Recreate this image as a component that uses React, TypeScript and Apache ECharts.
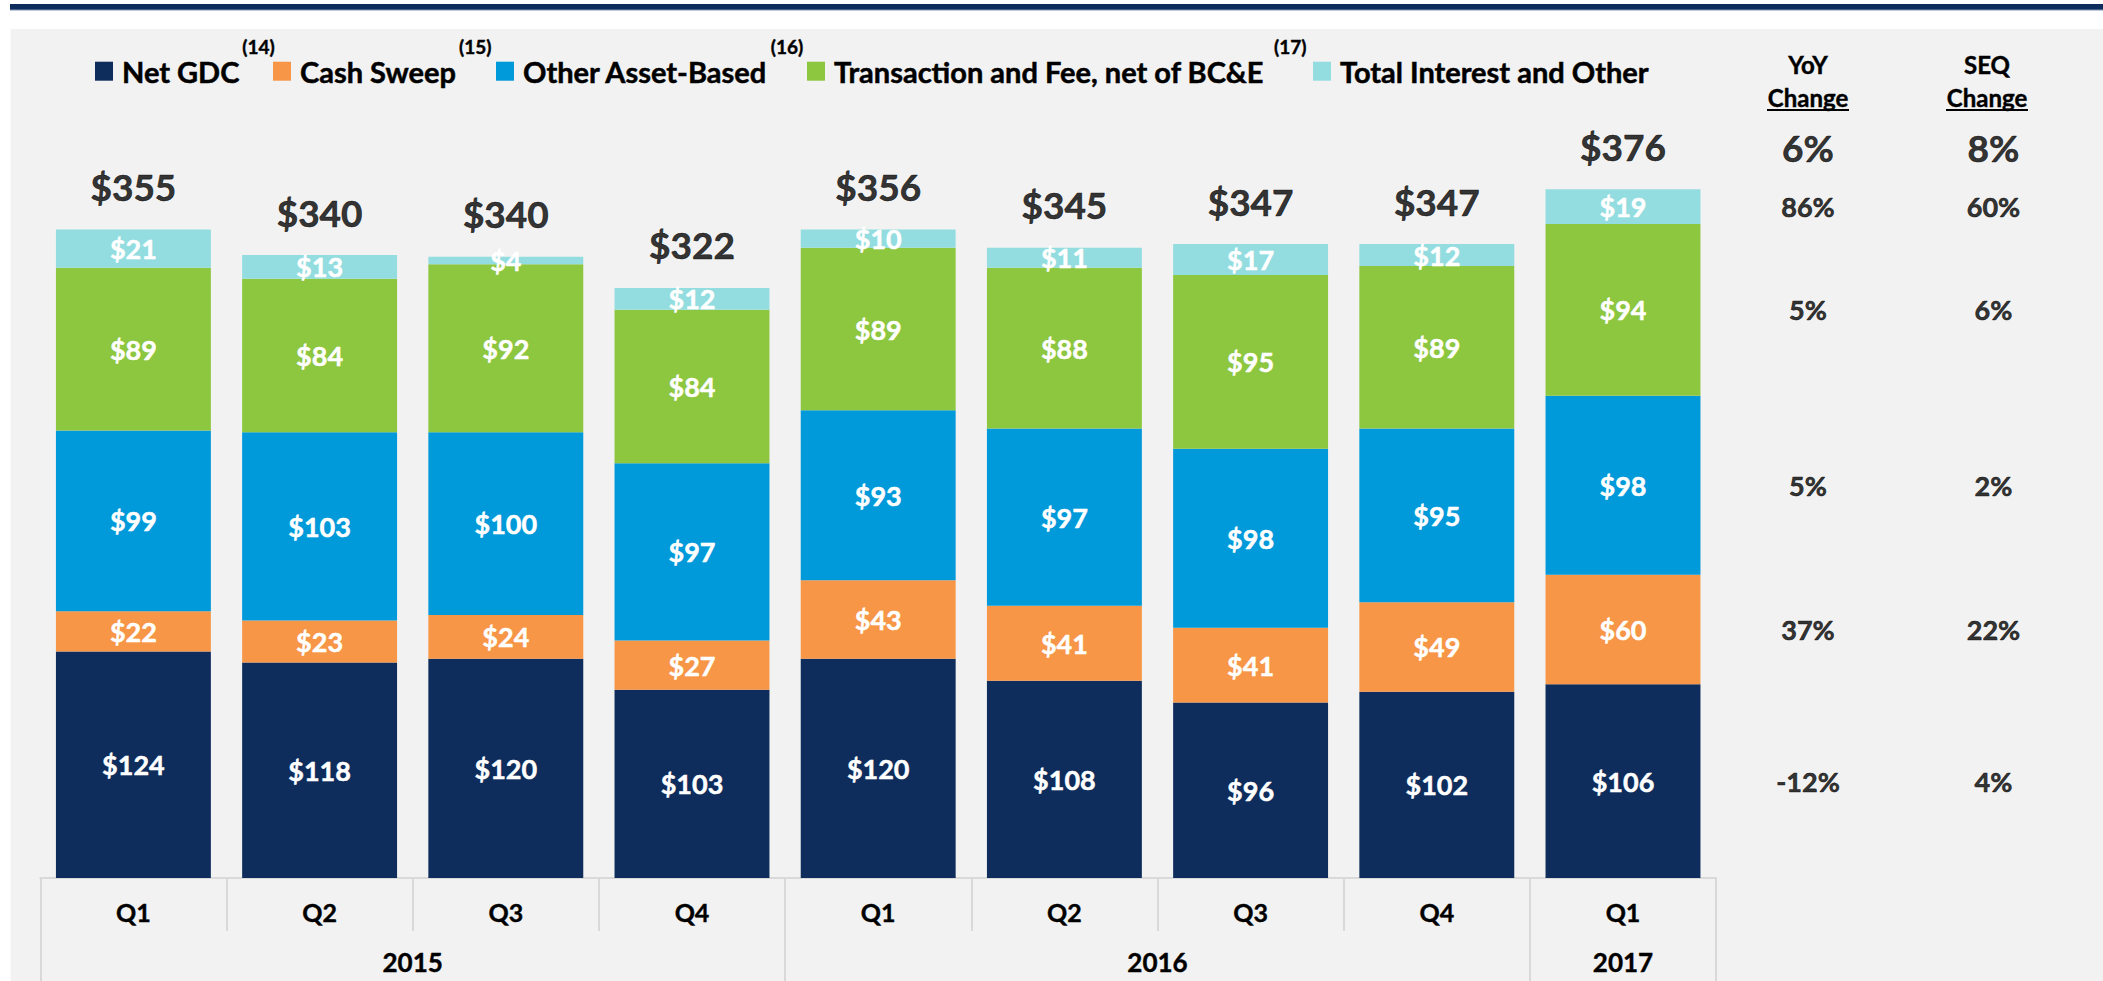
import React, { useEffect, useRef } from "react";
import * as echarts from "echarts";

// ---------- data ----------
const quarters = ["Q1", "Q2", "Q3", "Q4", "Q1", "Q2", "Q3", "Q4", "Q1"];
const years = ["2015", "2016", "2017"];
const quartersPerYear = [4, 4, 1];

const netGDC = [124, 118, 120, 103, 120, 108, 96, 102, 106];
const cashSweep = [22, 23, 24, 27, 43, 41, 41, 49, 60];
const otherAssetBased = [99, 103, 100, 97, 93, 97, 98, 95, 98];
const transactionFee = [89, 84, 92, 84, 89, 88, 95, 89, 94];
const interestOther = [21, 13, 4, 12, 10, 11, 17, 12, 19];
const totals = [355, 340, 340, 322, 356, 345, 347, 347, 376];

const seriesNames = [
  "Net GDC",
  "Cash Sweep",
  "Other Asset-Based",
  "Transaction and Fee, net of BC&E",
  "Total Interest and Other",
];
const footnotes = ["(14)", "(15)", "(16)", "(17)", ""];

// change columns, per series (same order as seriesNames), plus total
const yoyChange = ["-12%", "37%", "5%", "5%", "86%"];
const seqChange = ["4%", "22%", "2%", "6%", "60%"];
const yoyTotal = "6%";
const seqTotal = "8%";
const changeHeaders = ["YoY", "SEQ"];

// ---------- style ----------
const FONT = "Lato";
const colors = ["#0e2d5c", "#f79646", "#0099d9", "#8dc63f", "#93dde0"];
const legendLefts = [95, 273, 496, 807, 1313];

const GRID_TOP = 110.7;
const GRID_H = 767.3;
const Y_MAX = 420;

const heavyBlack = { color: "#000", textBorderColor: "#000", textBorderWidth: 0.6 };
const heavyWhite = { color: "#fff", textBorderColor: "#fff", textBorderWidth: 0.5 };

export default function App() {
  const ref = useRef<HTMLDivElement>(null);

  useEffect(() => {
    const chart = echarts.init(ref.current!, null, { renderer: "svg" });

    const seriesData = [netGDC, cashSweep, otherAssetBased, transactionFee, interestOther];
    const stackTops = quarters.map((_, i) => seriesData.reduce((s, arr) => s + arr[i], 0));

    // year boundaries / centers on a 0..n value axis
    const boundaries: number[] = [0];
    const yearCenters: number[] = [];
    quartersPerYear.forEach((n) => {
      const start = boundaries[boundaries.length - 1];
      yearCenters.push(start + n / 2);
      boundaries.push(start + n);
    });

    const last = quarters.length - 1;
    const changeData: any[] = [];
    let cum = 0;
    seriesData.forEach((arr, k) => {
      const center = cum + arr[last] / 2;
      cum += arr[last];
      changeData.push({ value: [0, center], label: { formatter: yoyChange[k] } });
      changeData.push({ value: [1, center], label: { formatter: seqChange[k] } });
    });
    const topBig = { fontSize: 37, offset: [0, -42] };
    changeData.push({ value: [0, stackTops[last]], label: { formatter: yoyTotal, ...topBig } });
    changeData.push({ value: [1, stackTops[last]], label: { formatter: seqTotal, ...topBig } });

    const barSeries = seriesData.map((arr, k) => ({
      type: "bar",
      name: seriesNames[k],
      stack: "rev",
      xAxisIndex: 0,
      yAxisIndex: 0,
      data: arr,
      barCategoryGap: "16.8%",
      itemStyle: { color: colors[k] },
      label: {
        show: true,
        position: "inside",
        ...heavyWhite,
        fontFamily: FONT,
        fontWeight: "bold",
        fontSize: 27,
        formatter: (p: any) => "$" + p.value,
      },
    }));

    const footStyle = {
      fontFamily: FONT,
      fontWeight: "bold",
      fontSize: 19,
      ...heavyBlack,
      textBorderWidth: 0.4,
      lineHeight: 19,
      verticalAlign: "top",
    };

    const legends = seriesNames.map((name, k) => ({
      data: [name],
      left: legendLefts[k],
      top: 36.5,
      padding: 0,
      itemGap: 0,
      itemWidth: 18,
      itemHeight: 19,
      icon: "rect",
      selectedMode: false,
      formatter: (nm: string) => {
        const i = seriesNames.indexOf(nm);
        const foot = footnotes[i] || " ";
        return `{n|${nm}}{${i === 3 ? "g" : "f"}|${foot}}`;
      },
      textStyle: {
        fontFamily: FONT,
        fontWeight: "bold",
        fontSize: 29,
        ...heavyBlack,
        rich: {
          n: {
            fontFamily: FONT,
            fontWeight: "bold",
            fontSize: 29,
            ...heavyBlack,
            textBorderWidth: 0.5,
            lineHeight: 69,
            verticalAlign: "middle",
            padding: [0, 0, 0, 4],
          },
          f: { ...footStyle, padding: [0, 0, 0, 3] },
          g: { ...footStyle, padding: [0, 0, 0, 10] },
        },
      },
    }));

    const option: any = {
      animation: false,
      backgroundColor: "#f2f2f2",
      textStyle: { fontFamily: FONT },
      legend: legends,
      grid: [
        { left: 40.3, top: GRID_TOP, width: 1675.8, height: GRID_H, containLabel: false },
        { left: 1715.25, top: GRID_TOP, width: 371, height: GRID_H, containLabel: false },
      ],
      xAxis: [
        {
          type: "category",
          gridIndex: 0,
          data: quarters,
          position: "bottom",
          axisLine: { show: true, lineStyle: { color: "#d9d9d9", width: 2 } },
          axisTick: {
            show: true,
            alignWithLabel: false,
            interval: 0,
            length: 53,
            lineStyle: { color: "#d9d9d9", width: 2 },
          },
          axisLabel: {
            interval: 0,
            margin: 21,
            ...heavyBlack,
            textBorderWidth: 0.4,
            fontFamily: FONT,
            fontWeight: "bold",
            fontSize: 25,
          },
          splitLine: { show: false },
        },
        {
          type: "value",
          gridIndex: 0,
          min: 0,
          max: quarters.length,
          position: "bottom",
          axisLine: { show: false },
          splitLine: { show: false },
          axisTick: {
            show: true,
            customValues: boundaries,
            length: 103,
            lineStyle: { color: "#d9d9d9", width: 2 },
          },
          axisLabel: {
            show: true,
            customValues: yearCenters,
            margin: 71,
            ...heavyBlack,
            textBorderWidth: 0.4,
            fontFamily: FONT,
            fontWeight: "bold",
            fontSize: 26,
            formatter: (v: number) => {
              const i = yearCenters.findIndex((c) => Math.abs(c - v) < 1e-6);
              return i >= 0 ? years[i] : "";
            },
          },
        },
        {
          type: "category",
          gridIndex: 1,
          data: changeHeaders,
          position: "top",
          offset: -20,
          axisLine: { show: false },
          axisTick: { show: false },
          splitLine: { show: false },
          axisLabel: {
            interval: 0,
            margin: 17,
            formatter: (v: string) => (v === "SEQ" ? `{s|${v}}\n{s|Change}` : `{h|${v}}\n{h|Change}`),
            rich: {
              h: { fontFamily: FONT, fontWeight: "bold", fontSize: 24, ...heavyBlack, textBorderWidth: 0.4, lineHeight: 32.5 },
              s: {
                fontFamily: FONT,
                fontWeight: "bold",
                fontSize: 24,
                ...heavyBlack,
                textBorderWidth: 0.4,
                lineHeight: 32.5,
                padding: [0, 13, 0, 0],
              },
            },
          },
        },
      ],
      yAxis: [
        { type: "value", gridIndex: 0, min: 0, max: Y_MAX, show: false },
        { type: "value", gridIndex: 1, min: 0, max: Y_MAX, show: false },
      ],
      graphic: [
        { type: "rect", silent: true, shape: { x: 0, y: 0, width: 2103, height: 29 }, style: { fill: "#ffffff" } },
        { type: "rect", silent: true, shape: { x: 0, y: 0, width: 10.5, height: 981 }, style: { fill: "#ffffff" } },
        {
          type: "rect",
          silent: true,
          shape: { x: 10, y: 4, width: 2093, height: 6.5 },
          style: {
            fill: new echarts.graphic.LinearGradient(0, 0, 0, 1, [
              { offset: 0, color: "#0c2b5b" },
              { offset: 0.7, color: "#0d2d5e" },
              { offset: 1, color: "#8196b5" },
            ]),
          },
        },
        { type: "line", silent: true, shape: { x1: 1767, y1: 110, x2: 1849, y2: 110 }, style: { stroke: "#000", lineWidth: 2 } },
        { type: "line", silent: true, shape: { x1: 1946, y1: 110, x2: 2028, y2: 110 }, style: { stroke: "#000", lineWidth: 2 } },
      ],
      series: [
        ...barSeries,
        {
          type: "scatter",
          name: "Total",
          xAxisIndex: 0,
          yAxisIndex: 0,
          data: stackTops,
          symbolSize: 1,
          itemStyle: { color: "rgba(0,0,0,0)" },
          label: {
            show: true,
            position: "inside",
            offset: [0, -43],
            ...heavyBlack,
            fontFamily: FONT,
            fontWeight: "bold",
            fontSize: 37,
            formatter: (p: any) => "$" + totals[p.dataIndex],
          },
          z: 5,
        },
        {
          type: "scatter",
          name: "Change",
          xAxisIndex: 2,
          yAxisIndex: 1,
          data: changeData,
          symbolSize: 1,
          itemStyle: { color: "rgba(0,0,0,0)" },
          label: {
            show: true,
            position: "inside",
            ...heavyBlack,
            fontFamily: FONT,
            fontWeight: "bold",
            fontSize: 27,
          },
          z: 5,
        },
      ],
    };

    chart.setOption(option);
    return () => chart.dispose();
  }, []);

  return <div ref={ref} style={{ position: "fixed", left: 0, top: 0, width: 2103, height: 981 }} />;
}
